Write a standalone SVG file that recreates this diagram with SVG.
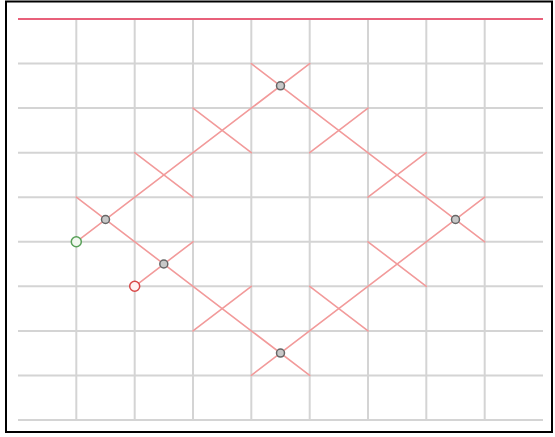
<svg xmlns="http://www.w3.org/2000/svg" width="555" height="437" viewBox="0 0 555 437">
<style>
.frame{fill:#fff;stroke:#000;stroke-width:2}
.grid line{stroke:#d4d4d4;stroke-width:2}
.top{stroke:#e8607a;stroke-width:2}
.conn line{stroke:#f29a9a;stroke-width:1.6;stroke-linecap:round}
.node{fill:#c8c8c8;stroke:#666;stroke-width:1.5}
.start{fill:#f2f8f0;stroke:#58a058;stroke-width:1.5}
.end{fill:#fff2f2;stroke:#d84848;stroke-width:1.5}
</style>
<rect class="frame" x="6" y="1.5" width="546" height="430.5"/>
<g id="grid" class="grid">
<line x1="76.3" y1="19" x2="76.3" y2="420"/>
<line x1="134.7" y1="19" x2="134.7" y2="420"/>
<line x1="193" y1="19" x2="193" y2="420"/>
<line x1="251.3" y1="19" x2="251.3" y2="420"/>
<line x1="309.7" y1="19" x2="309.7" y2="420"/>
<line x1="368" y1="19" x2="368" y2="420"/>
<line x1="426.3" y1="19" x2="426.3" y2="420"/>
<line x1="484.7" y1="19" x2="484.7" y2="420"/>
<line x1="18" y1="63.6" x2="543" y2="63.6"/>
<line x1="18" y1="108.1" x2="543" y2="108.1"/>
<line x1="18" y1="152.7" x2="543" y2="152.7"/>
<line x1="18" y1="197.2" x2="543" y2="197.2"/>
<line x1="18" y1="241.8" x2="543" y2="241.8"/>
<line x1="18" y1="286.3" x2="543" y2="286.3"/>
<line x1="18" y1="330.9" x2="543" y2="330.9"/>
<line x1="18" y1="375.4" x2="543" y2="375.4"/>
<line x1="18" y1="420" x2="543" y2="420"/>
</g>
<line class="top" x1="18" y1="19" x2="543" y2="19"/>
<g id="connectors" class="conn">
<line x1="76.3" y1="241.8" x2="309.7" y2="63.6"/>
<line x1="251.3" y1="63.6" x2="484.7" y2="241.8"/>
<line x1="484.7" y1="197.2" x2="251.3" y2="375.4"/>
<line x1="309.7" y1="375.4" x2="76.3" y2="197.2"/>
<line x1="193" y1="241.8" x2="134.7" y2="286.3"/>
<line x1="134.7" y1="152.7" x2="193" y2="197.2"/>
<line x1="193" y1="108.1" x2="251.3" y2="152.7"/>
<line x1="309.7" y1="152.7" x2="368" y2="108.1"/>
<line x1="368" y1="197.2" x2="426.3" y2="152.7"/>
<line x1="368" y1="241.8" x2="426.3" y2="286.3"/>
<line x1="309.7" y1="286.3" x2="368" y2="330.9"/>
<line x1="193" y1="330.9" x2="251.3" y2="286.3"/>
</g>
<g id="node-left"><circle class="node" cx="105.5" cy="219.5" r="4"/></g>
<g id="node-inner"><circle class="node" cx="163.8" cy="264" r="4"/></g>
<g id="node-top"><circle class="node" cx="280.5" cy="85.8" r="4"/></g>
<g id="node-right"><circle class="node" cx="455.5" cy="219.5" r="4"/></g>
<g id="node-bottom"><circle class="node" cx="280.5" cy="353.1" r="4"/></g>
<g id="start"><circle class="start" cx="76.3" cy="241.8" r="5"/></g>
<g id="end"><circle class="end" cx="134.7" cy="286.3" r="5"/></g>
</svg>
